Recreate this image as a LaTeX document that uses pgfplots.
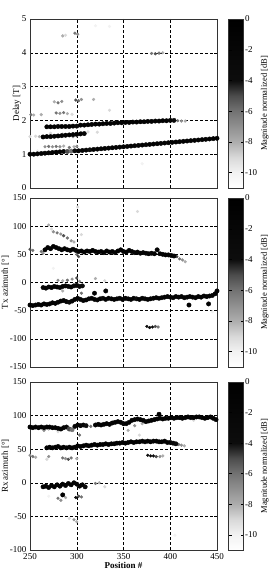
\documentclass[border=0pt]{standalone}
\usepackage{fontspec}
\setmainfont{Liberation Serif}
\usepackage{pgfplots}
\usepackage{pgfplotstable}
\pgfplotsset{compat=1.18}
\pgfplotsset{
  colormap={bw}{gray(0cm)=(1); gray(1cm)=(0.95); gray(2cm)=(0.85); gray(3cm)=(0.68); gray(5cm)=(0.45); gray(6cm)=(0.3); gray(7cm)=(0.05); gray(11cm)=(0)},
  panel/.style={
    width=187pt, scale only axis,
    xmin=250, xmax=450, xtick={250,300,350,400,450},
    grid=major, major grid style={densely dashed, black, line width=0.4pt},
    axis line style={line width=0.5pt, black!80},
    tick style={black, line width=0.4pt}, major tick length=3pt,
    /pgf/number format/assume math mode=true,
    ticklabel style={font=\fontsize{9}{9}\selectfont},
    ylabel style={font=\fontsize{9}{9}\selectfont, yshift=-6pt},
    xlabel style={font=\bfseries\fontsize{9}{9}\selectfont, yshift=4pt},
    colormap name=bw, point meta min=-11, point meta max=0,
    colorbar,
    colorbar style={
      at={(parent axis.north east)}, anchor=north west, xshift=3pt,
      width=15pt, ytick={0,-2,-4,-6,-8,-10},
      /pgf/number format/assume math mode=true,
      yticklabel style={font=\fontsize{9}{9}\selectfont, xshift=-2pt},
      ylabel={Magnitude normalized [dB]},
      ylabel style={font=\fontsize{8.5}{8.5}\selectfont, yshift=3pt},
      axis line style={black!80}, major tick length=3pt,
    },
  },
  dots/.style={scatter, only marks, mark=*, mark size=#1, scatter src=explicit,
    scatter/use mapped color={draw=mapped color, fill=mapped color}},
  dots/.default=1.8pt,
}
\pgfplotstableread{
x y c
250 1.00 -1
254 1.00 -0.5
258 1.01 -1
262 1.02 -0.5
266 1.03 -1
270 1.04 -1.5
274 1.05 -1
278 1.06 -0.5
282 1.07 -1
286 1.08 -2
290 1.08 -5
294 1.09 -6
298 1.10 -3
302 1.10 -1
306 1.11 -1.5
310 1.12 -2
314 1.13 -4
318 1.14 -1
322 1.15 -1
326 1.16 -1.5
330 1.17 -1
334 1.18 -2
338 1.19 -1
342 1.20 -1
346 1.21 -1.5
350 1.22 -1
354 1.23 -2
358 1.24 -1
362 1.25 -1
366 1.26 -1.5
370 1.27 -1
374 1.28 -2
378 1.29 -1
382 1.30 -0.5
386 1.31 -1
390 1.32 -1.5
394 1.33 -1
398 1.34 -1
402 1.35 -0.5
406 1.36 -1
410 1.37 -1
414 1.38 -0.5
418 1.39 -1
422 1.40 -1
426 1.41 -0.5
430 1.42 -1
434 1.43 -0.5
438 1.44 -1
442 1.45 -0.5
446 1.46 -1
450 1.47 -0.5
268 1.81 -1
272 1.81 -0.5
276 1.81 -1
280 1.82 -1
284 1.82 -0.5
288 1.82 -1
292 1.82 -1
296 1.83 -2
300 1.83 -4
304 1.86 -1
308 1.86 -0.5
312 1.87 -1
316 1.88 -1
320 1.89 -0.5
324 1.89 -1
328 1.90 -1
332 1.91 -0.5
336 1.91 -1
340 1.92 -1
344 1.93 -0.5
348 1.93 -1
352 1.94 -1
356 1.94 -0.5
360 1.95 -1
364 1.95 -1
368 1.96 -0.5
372 1.96 -1
376 1.97 -1
380 1.97 -0.5
384 1.98 -1
388 1.98 -1
392 1.99 -0.5
396 1.99 -1
400 2.00 -1.5
404 2.00 -3
264 1.51 -1
268 1.52 -0.5
272 1.52 -1
276 1.53 -1
280 1.54 -0.5
284 1.55 -1
288 1.56 -1
292 1.57 -0.5
296 1.58 -1
300 1.59 -1
304 1.60 -0.5
308 1.61 -1.5
}\delayA
\pgfplotstableread{
x y c
408 1.99 -6
412 1.98 -7
416 1.98 -8
250 1.52 -9
256 1.53 -9
260 1.52 -8
266 1.22 -7
270 1.23 -6
274 1.22 -7
278 1.23 -6
282 1.22 -7
286 1.24 -8
292 1.20 -6
297 1.22 -8
300 1.23 -7
251 2.17 -6
254 2.16 -8
262 2.17 -8
278 2.22 -6
282 2.21 -7
286 2.23 -6
290 2.20 -8
295 2.18 -9
276 2.55 -8
280 2.52 -6
284 2.56 -7
299 2.60 -5
302 2.58 -6
305 2.62 -7
318 2.62 -8
335 2.30 -9
305 1.63 -6
312 1.66 -9
322 1.65 -9
296 1.52 -7
300 1.54 -8
285 4.50 -8
288 4.52 -9
298 4.58 -6
301 4.55 -7
380 3.98 -6
384 3.97 -5
388 3.99 -6
392 4.00 -8
265 2.95 -10
270 2.95 -10
370 0.72 -10
320 4.80 -10
335 4.78 -10
272 1.62 -9
285 1.60 -9
258 1.10 -10
}\delayB
\pgfplotstableread{
x y c
266 58 -1
269 62 -0.5
272 60 -1
275 64 -0.5
278 62 -1
281 60 -1.5
284 58 -1
287 60 -0.5
290 58 -1
293 57 -1.5
296 59 -1
299 57 -2
302 55 -1
305 56 -0.5
308 54 -1
311 56 -1
314 55 -1.5
317 57 -0.5
320 55 -1
323 54 -1
326 55 -1.5
329 53 -1
332 56 -0.5
335 54 -1
338 55 -1
341 53 -1.5
344 56 -0.5
347 58 -0.5
350 55 -1
353 54 -1
356 57 -0.5
359 55 -1
362 53 -1.5
365 54 -1
368 52 -1
371 53 -1.5
374 52 -1
377 51 -1
380 52 -1.5
383 51 -1
386 58 -0.5
389 51 -1
392 50 -1.5
395 49 -1
398 49 -1.5
401 48 -1
404 47 -2
250 -40 -1
253 -41 -0.5
256 -40 -1
259 -39 -1
262 -40 -0.5
265 -38 -1
268 -39 -1
271 -38 -0.5
274 -36 -1
277 -37 -1
280 -35 -1.5
283 -33 -1
286 -32 -1
289 -34 -2
292 -35 -4
295 -33 -2
298 -30 -1
301 -28 -1
304 -30 -1.5
307 -32 -1
310 -31 -1
313 -29 -1.5
316 -28 -1
319 -30 -1
322 -31 -2
325 -29 -1
328 -28 -3
331 -30 -1
334 -28 -1
337 -29 -1.5
340 -30 -1
343 -29 -1
346 -28 -1.5
349 -30 -1
352 -28 -1
355 -29 -2
358 -30 -1
361 -28 -1
364 -29 -4
367 -30 -1
370 -28 -1
373 -29 -1.5
376 -30 -1
379 -29 -1
382 -28 -1.5
385 -27 -1
388 -28 -1
391 -27 -1.5
394 -26 -1
397 -25 -1
400 -26 -1.5
403 -27 -1
406 -25 -1
409 -26 -1.5
412 -25 -1
415 -27 -1
418 -26 -1.5
421 -25 -1
424 -26 -1
427 -27 -1.5
430 -25 -1
433 -26 -1
436 -24 -1.5
439 -25 -1
442 -24 -1
445 -23 -1
448 -20 -1
450 -15 -0.5
264 -9 -1.5
267 -10 -1
270 -8 -2
273 -9 -1
276 -7 -1.5
279 -8 -1
282 -9 -2
285 -7 -1
288 -6 -1.5
291 -7 -2
294 -8 -1
297 -6 -2.5
300 -5 -1.5
303 -7 -2
306 -6 -3
319 -19 -1
331 -15 -1
420 -40 -0.5
441 -38 -0.5
}\txA
\pgfplotstableread{
x y c
407 46 -5
410 42 -6
413 40 -7
416 37 -8
262 55 -6
264 52 -7
250 59 -5
253 57 -6
270 102 -8
273 95 -9
275 90 -7
279 88 -6
283 86 -7
286 83 -5
290 79 -6
294 74 -7
297 72 -8
305 85 -9
301 134 -9
365 126 -9
302 46 -5
300 50 -6
275 25 -10
280 4 -7
285 3 -8
290 4 -6
295 6 -7
300 8 -5
303 2 -7
320 7 -8
330 3 -9
305 -19 -6
375 -78 -4
378 -80 -3
381 -79 -4
384 -78 -5
387 -79 -6
445 -52 -10
285 -15 -8
300 -30 -6
}\txB
\pgfplotstableread{
x y c
250 83 -1
253 82 -0.5
256 83 -1
259 82 -1
262 83 -0.5
265 82 -1
268 83 -1
271 83 -0.5
274 82 -1
277 82 -1
280 81 -1.5
283 80 -1
286 82 -1
289 83 -2
292 80 -5
295 79 -6
298 84 -2
301 86 -1
304 85 -1
307 86 -1.5
310 85 -4
320 86 -1
323 87 -1
326 86 -0.5
329 87 -1
332 88 -1
335 87 -1.5
338 89 -1
341 90 -1
344 91 -0.5
347 90 -1
350 88 -2
353 88 -1
356 90 -1
359 93 -0.5
362 94 -1
365 95 -1
368 94 -0.5
371 93 -1
374 91 -1.5
377 92 -1
380 93 -1
383 94 -0.5
386 95 -1
389 96 -1
392 95 -0.5
395 96 -1
398 96 -1
401 97 -0.5
404 96 -1
407 97 -1
410 97 -0.5
413 96 -1
416 97 -1
419 98 -0.5
422 97 -1
425 97 -1
428 98 -0.5
431 98 -1
434 97 -1
437 96 -0.5
440 97 -1
443 98 -1
446 96 -0.5
449 94 -1
268 52 -1
271 53 -0.5
274 52 -1
277 53 -1
280 54 -0.5
283 52 -1
286 53 -1
289 52 -1.5
292 53 -1
295 52 -1
298 53 -2
301 55 -1
304 54 -1
307 55 -0.5
310 56 -1
313 55 -1
316 56 -0.5
319 57 -1
322 56 -1
325 57 -0.5
328 57 -1
331 58 -1
334 57 -0.5
337 58 -1
340 58 -1
343 59 -0.5
346 59 -1
349 60 -1
352 59 -0.5
355 60 -1
358 61 -1
361 60 -0.5
364 61 -1
367 61 -1
370 62 -0.5
373 61 -1
376 62 -1
379 61 -0.5
382 62 -1
385 62 -1
388 61 -0.5
391 61 -1
394 62 -1
397 60 -1
400 60 -1.5
403 59 -3
406 58 -4
264 -6 -1
267 -5 -0.5
270 -7 -1
273 -4 -1
276 -6 -0.5
279 -3 -1
282 -5 -1
285 -2 -0.5
288 -4 -1
291 -1 -1
294 -3 -0.5
297 0 -1
300 -2 -1
303 -5 -0.5
306 -3 -1
309 -6 -3
285 -18 0
388 102 0
}\rxA
\pgfplotstableread{
x y c
409 57 -6
412 56 -7
415 55 -8
315 84 -6
250 41 -7
253 39 -6
256 38 -8
270 39 -7
268 35 -9
285 37 -6
288 36 -7
291 35 -5
294 37 -6
300 36 -8
376 41 -4
379 40 -3
382 40 -4
385 39 -5
389 39 -7
392 40 -8
280 -23 -6
283 -26 -7
288 -22 -8
299 -22 -4
302 -20 -5
305 -21 -6
297 -55 -7
292 -53 -9
300 -58 -8
320 -1 -6
324 0 -8
330 -6 -9
355 78 -8
265 78 -7
270 80 -8
303 71 -6
367 71 -9
280 76 -9
405 -78 -10
362 85 -7
370 88 -8
425 93 -9
270 -20 -10
}\rxB
\begin{document}
\begin{tikzpicture}
\useasboundingbox (0,0) rectangle (273pt,572pt);
% Panel 1
\begin{axis}[panel, at={(30pt,384pt)}, anchor=south west, height=169pt,
  ymin=0, ymax=5, ytick={0,1,2,3,4,5}, xticklabels={},
  ylabel={Delay [T]}]
\addplot[dots=1.4pt] table[meta=c] {\delayB};
\addplot[dots=2.2pt] table[meta=c] {\delayA};
\end{axis}
% Panel 2
\begin{axis}[panel, at={(30pt,205pt)}, anchor=south west, height=169pt,
  ymin=-150, ymax=150, ytick={-150,-100,...,150}, xticklabels={},
  ylabel={Tx azimuth [°]}]
\addplot[dots=1.4pt] table[meta=c] {\txB};
\addplot[dots=2.2pt] table[meta=c] {\txA};
\end{axis}
% Panel 3
\begin{axis}[panel, at={(30pt,22pt)}, anchor=south west, height=168pt,
  ymin=-100, ymax=150, ytick={-100,-50,...,150},
  ylabel={Rx azimuth [°]}, xlabel={Position \#}]
\addplot[dots=1.4pt] table[meta=c] {\rxB};
\addplot[dots=2.2pt] table[meta=c] {\rxA};
\end{axis}
\end{tikzpicture}
\end{document}
